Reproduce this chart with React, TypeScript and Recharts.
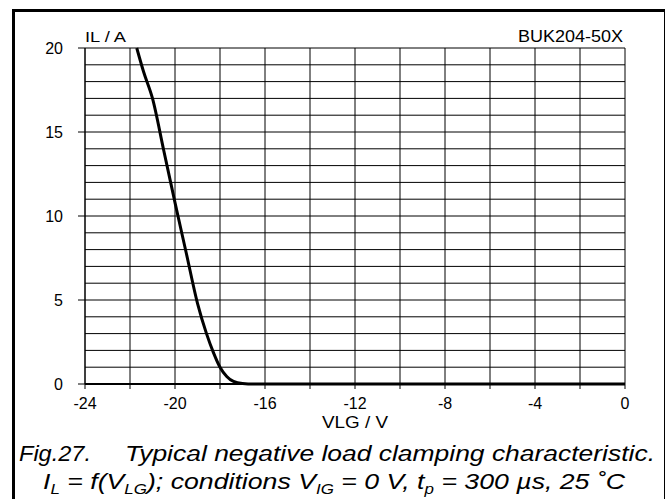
import { LineChart, Line, XAxis, YAxis, CartesianGrid } from 'recharts'

// VLG (V) vs IL (A)
const vlg = [-21.7, -21.4, -21.0, -20.5, -20.0, -19.5, -19.0, -18.6, -18.3, -18.0, -17.7, -17.4, -17.0, -16.5, -16.0, -12, -8, -4, 0]
const il = [20, 18.6, 17.0, 13.9, 10.8, 7.8, 4.8, 3.0, 1.9, 1.0, 0.45, 0.15, 0.03, 0, 0, 0, 0, 0, 0]

const xTicks = [-24, -22, -20, -18, -16, -14, -12, -10, -8, -6, -4, -2, 0]
const xLabelled = [-24, -20, -16, -12, -8, -4, 0]
const yTicks = [0, 1, 2, 3, 4, 5, 6, 7, 8, 9, 10, 11, 12, 13, 14, 15, 16, 17, 18, 19, 20]
const yLabelled = [0, 5, 10, 15, 20]

const font = '"Liberation Sans", Arial, sans-serif'

const chartData = vlg.map((v, i) => ({ v, il: il[i] }))

const YTick = ({ x, y, payload }: any) => {
  if (!yLabelled.includes(payload.value)) return null
  return (
    <g>
      <line x1={x + 15} x2={x + 22} y1={y} y2={y} stroke="#000" strokeWidth={1} />
      <text x={x} y={y + 6} textAnchor="end" fontSize={16} fontFamily={font} fill="#000">
        {payload.value}
      </text>
    </g>
  )
}

const XTick = ({ x, payload }: any) => {
  if (!xLabelled.includes(payload.value)) return null
  return (
    <text x={x} y={409} textAnchor="middle" fontSize={16} fontFamily={font} fill="#000">
      {payload.value}
    </text>
  )
}

// caption line 2: [text, subscript] pairs
const caption2: [string, string][] = [
  ['I', 'L'],
  [' = f(V', 'LG'],
  ['); conditions V', 'IG'],
  [' = 0 V, t', 'p'],
  [' = 300 µs, 25 ˚C', ''],
]

export default function App() {
  return (
    <div style={{ position: 'absolute', left: 0, top: 0, width: 665, height: 499, background: '#fff', fontFamily: font, overflow: 'hidden' }}>
      <div style={{ position: 'absolute', left: 12, top: 9, width: 649, height: 510, border: '3px solid #000' }} />
      <div style={{ position: 'absolute', left: 0, top: 0 }}>
        <LineChart width={665} height={499} data={chartData} margin={{ top: 48, right: 40, left: 25, bottom: 85 }}>
          <CartesianGrid stroke="#000" strokeWidth={1} horizontalValues={yTicks} verticalValues={xTicks} />
          <XAxis
            dataKey="v"
            type="number"
            domain={[-24, 0]}
            ticks={xTicks}
            interval={0}
            height={30}
            tickSize={5}
            tickMargin={8}
            axisLine={{ stroke: '#000', strokeWidth: 2 }}
            tickLine={{ stroke: '#000' }}
            tick={<XTick />}
          />
          <YAxis
            type="number"
            domain={[0, 20]}
            ticks={yTicks}
            interval={0}
            width={60}
            tickSize={7}
            tickMargin={15}
            axisLine={{ stroke: '#000' }}
            tickLine={false}
            tick={<YTick />}
          />
          <Line
            type="monotone"
            dataKey="il"
            stroke="#000"
            strokeWidth={3}
            dot={false}
            isAnimationActive={false}
          />
        </LineChart>
      </div>
      <svg width={665} height={499} style={{ position: 'absolute', left: 0, top: 0, pointerEvents: 'none' }} fontFamily={font} fill="#000">
        <text x={85} y={42} fontSize={15} textLength={41} lengthAdjust="spacingAndGlyphs">IL / A</text>
        <text x={518} y={42} fontSize={16} textLength={105} lengthAdjust="spacingAndGlyphs">BUK204-50X</text>
        <text x={322} y={428} fontSize={16} textLength={66} lengthAdjust="spacingAndGlyphs">VLG / V</text>
        <text x={19} y={461} fontSize={22} fontStyle="italic" textLength={72} lengthAdjust="spacingAndGlyphs">Fig.27.</text>
        <text x={125} y={461} fontSize={22} fontStyle="italic" textLength={530} lengthAdjust="spacingAndGlyphs">
          Typical negative load clamping characteristic.
        </text>
        <text x={43} y={489} fontSize={22} fontStyle="italic" textLength={582} lengthAdjust="spacingAndGlyphs">
          {caption2.map(([t, s], i) => (
            <tspan key={i}>
              <tspan dy={i === 0 ? 0 : -5}>{t}</tspan>
              {s && <tspan dy={5} fontSize={14}>{s}</tspan>}
            </tspan>
          ))}
        </text>
      </svg>
    </div>
  )
}
